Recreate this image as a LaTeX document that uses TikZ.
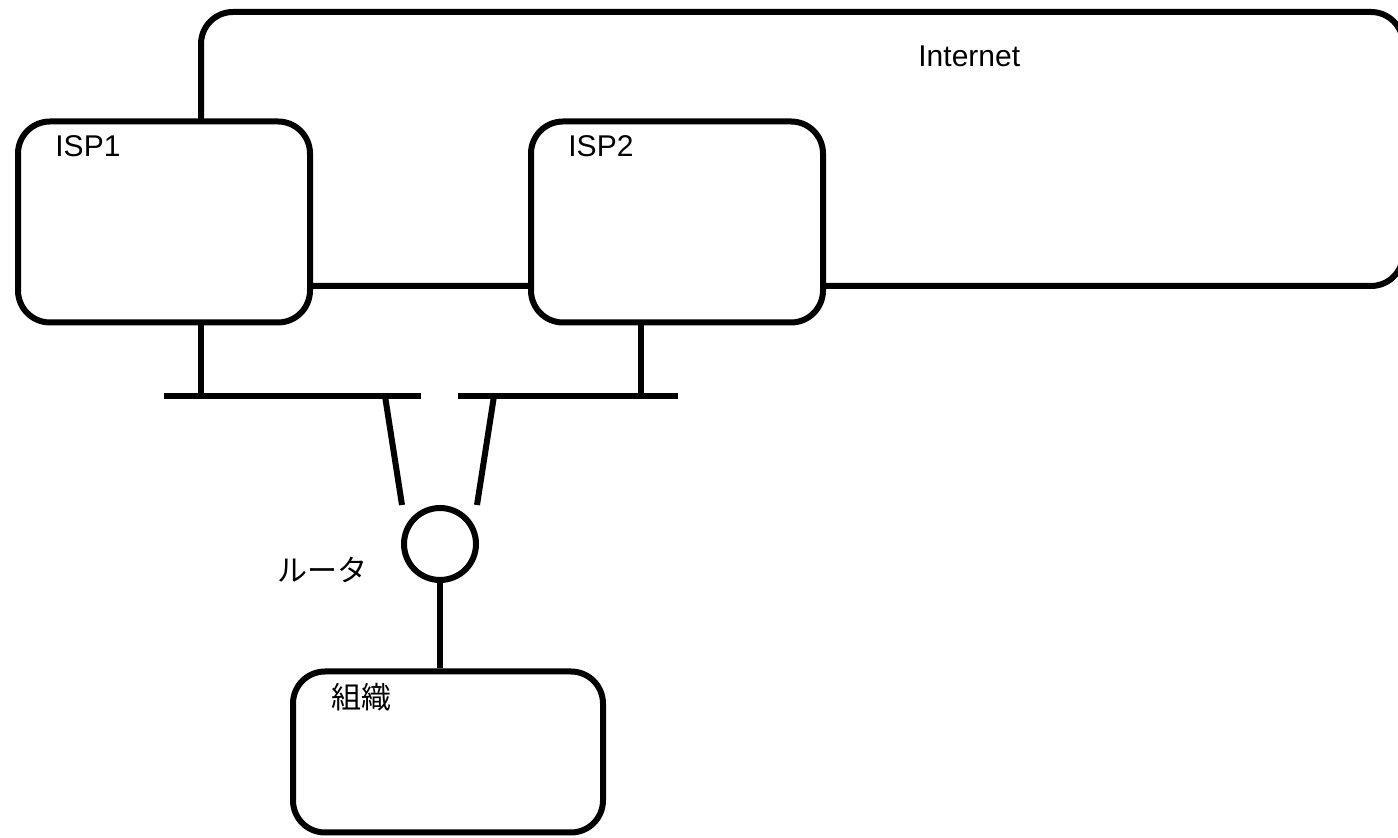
\documentclass[tikz,border=0pt]{standalone}
\usepackage{fontspec}
\setmainfont{Liberation Sans}
\newfontfamily\jpfont{Noto Sans CJK JP}

\tikzset{
	netbox/.style={draw, line width=3pt, rounded corners=16pt, fill=white, inner sep=0pt},
	wire/.style={line width=3pt},
	lbl/.style={font=\fontsize{15}{18}\selectfont, inner sep=0pt},
}

\begin{document}
\begin{tikzpicture}[x=0.5pt,y=-0.5pt]
	\useasboundingbox (0,0) rectangle (1398,838);

	% internet cloud, drawn first so the providers sit on top of it
	\node[netbox, minimum width=601pt, minimum height=137pt] (inet) at (802,149) {};
	\node[lbl, anchor=base west] (inetname) at (918,67) {Internet};

	\begin{scope} % providers
		\providecommand{\ispw}{146pt}
		\providecommand{\isph}{100.5pt}
		\node[netbox, minimum width=\ispw, minimum height=\isph] (isp1) at (164,222) {};
		\node[netbox, minimum width=\ispw, minimum height=\isph] (isp2) at (677,222) {};
		\node[lbl, anchor=base west] (isp1name) at (55,157) {ISP1};
		\node[lbl, anchor=base west] (isp2name) at (568,157) {ISP2};
	\end{scope}

	\begin{scope} % access lines
		\coordinate (bar1w) at (164,396);
		\coordinate (bar1e) at (421,396);
		\coordinate (bar2w) at (458,396);
		\coordinate (bar2e) at (678,396);
		\coordinate (tap1) at (201,396);
		\coordinate (tap2) at (641,396);

		\draw[wire] (bar1w) -- (bar1e);
		\draw[wire] (bar2w) -- (bar2e);
		\draw[wire] (isp1.south -| tap1) -- (tap1);
		\draw[wire] (isp2.south -| tap2) -- (tap2);
	\end{scope}

	% router and organisation
	\node[draw, circle, line width=3pt, minimum size=36pt, inner sep=0pt] (router) at (440,544) {};
	\node[lbl, font=\fontsize{15}{18}\selectfont\jpfont] (routername) at (322,570) {ルータ};
	\node[netbox, minimum width=155pt, minimum height=80.5pt] (org) at (448,752) {};
	\node[lbl, font=\fontsize{15}{18}\selectfont\jpfont] (orgname) at (361,697) {組織};

	\coordinate (drop1) at (385,396);
	\coordinate (drop2) at (494,396);
	\coordinate (end1) at (402,505);
	\coordinate (end2) at (477,505);
	\draw[wire] (drop1) -- (end1);
	\draw[wire] (drop2) -- (end2);
	\draw[wire] (router.south) -- (org.north -| router.south);
\end{tikzpicture}
\end{document}
